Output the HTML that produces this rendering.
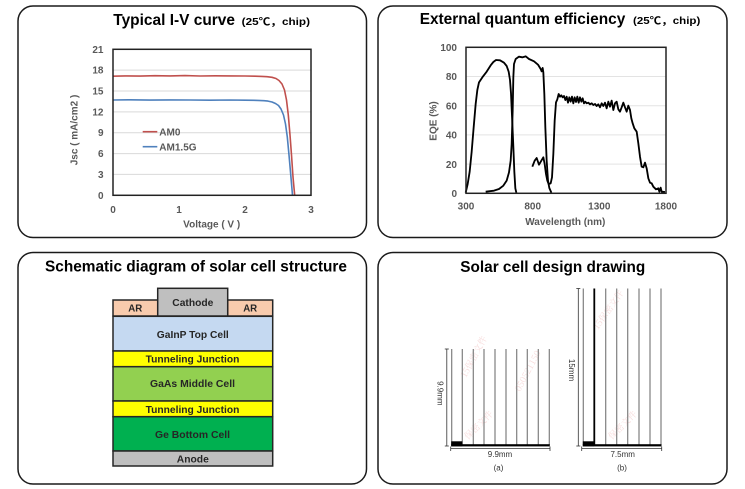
<!DOCTYPE html>
<html>
<head>
<meta charset="utf-8">
<style>
html,body{margin:0;padding:0;background:#fff;}
svg{display:block;}
.t{font-family:"Liberation Sans","Noto Sans CJK SC",sans-serif;font-weight:bold;}
.tk{font-family:"Liberation Sans",sans-serif;font-weight:bold;font-size:10px;fill:#595959;}
.sc{font-family:"Liberation Sans",sans-serif;font-weight:bold;font-size:10.5px;fill:#262626;}
.dm{font-family:"Liberation Sans",sans-serif;font-size:8px;fill:#333;}
.wm{font-family:"Noto Serif CJK SC","Noto Sans CJK SC",serif;font-size:9px;fill:#f3c6c6;opacity:0.6;}
</style>
</head>
<body>
<svg width="745" height="489" viewBox="0 0 745 489" xmlns="http://www.w3.org/2000/svg">
<rect width="745" height="489" fill="#fff"/>
<!-- panels -->
<g fill="none" stroke="#1a1a1a" stroke-width="1.5">
<rect x="18" y="6" width="348.5" height="231.5" rx="15" ry="15"/>
<rect x="378" y="6" width="349" height="231.5" rx="15" ry="15"/>
<rect x="18" y="252.5" width="348.5" height="231.5" rx="15" ry="15"/>
<rect x="378" y="252.5" width="349" height="231.5" rx="15" ry="15"/>
</g>

<!-- titles -->
<text class="t" x="113.3" y="25" font-size="15.5" textLength="121.7" lengthAdjust="spacingAndGlyphs">Typical I-V curve</text>
<text class="t" x="241.7" y="25" font-size="10.5" textLength="68.3" lengthAdjust="spacingAndGlyphs">(25℃，chip)</text>
<text class="t" x="419.7" y="24" font-size="15.5" textLength="205.6" lengthAdjust="spacingAndGlyphs">External quantum efficiency</text>
<text class="t" x="633" y="24" font-size="10.5" textLength="67.3" lengthAdjust="spacingAndGlyphs">(25℃，chip)</text>
<text class="t" x="45" y="271.5" font-size="15.5" textLength="302" lengthAdjust="spacingAndGlyphs">Schematic diagram of solar cell structure</text>
<text class="t" x="460.3" y="272" font-size="15.5" textLength="185" lengthAdjust="spacingAndGlyphs">Solar cell design drawing</text>

<!-- ===== Chart 1: I-V ===== -->
<g stroke="#d9d9d9" stroke-width="1">
<line x1="113" y1="70.1" x2="311" y2="70.1"/>
<line x1="113" y1="91" x2="311" y2="91"/>
<line x1="113" y1="111.9" x2="311" y2="111.9"/>
<line x1="113" y1="132.7" x2="311" y2="132.7"/>
<line x1="113" y1="153.6" x2="311" y2="153.6"/>
<line x1="113" y1="174.4" x2="311" y2="174.4"/>
</g>
<polyline fill="none" stroke="#c0504d" stroke-width="1.6" stroke-linejoin="round" points="113,76.2 125,75.9 140,76.1 155,75.7 170,75.9 185,75.6 200,76.0 215,75.8 230,75.9 245,76.0 255,76.2 262,76.4 267,76.7 272,77.3 276,78.5 279,80.5 282,84 284.5,90 286.5,100 288.3,115 290,135 291.5,155 293,177 294.2,190 294.7,195.3"/>
<polyline fill="none" stroke="#4f81bd" stroke-width="1.6" stroke-linejoin="round" points="113,100 130,99.8 150,100.1 170,99.9 190,100.0 210,100.2 230,100.0 245,100.2 258,100.4 264,100.7 268,101.1 272,102 275.5,103.5 278.5,105.5 281,109 283.5,115 285.5,124 287.3,137 289,155 290.5,172 291.8,187 292.5,195.3"/>
<rect x="113" y="49.3" width="198" height="146" fill="none" stroke="#222" stroke-width="1.5"/>
<!-- legend -->
<line x1="142.7" y1="131.7" x2="157.3" y2="131.7" stroke="#c0504d" stroke-width="1.6"/>
<text class="tk" x="159.3" y="135.5">AM0</text>
<line x1="142.7" y1="146.7" x2="157.3" y2="146.7" stroke="#4f81bd" stroke-width="1.6"/>
<text class="tk" x="159.3" y="150.5">AM1.5G</text>
<!-- y ticks -->
<g class="tk" text-anchor="end">
<text x="103.5" y="52.8">21</text>
<text x="103.5" y="73.6">18</text>
<text x="103.5" y="94.5">15</text>
<text x="103.5" y="115.4">12</text>
<text x="103.5" y="136.2">9</text>
<text x="103.5" y="157.1">6</text>
<text x="103.5" y="177.9">3</text>
<text x="103.5" y="198.8">0</text>
</g>
<g class="tk" text-anchor="middle">
<text x="113" y="213">0</text>
<text x="179" y="213">1</text>
<text x="245" y="213">2</text>
<text x="311" y="213">3</text>
<text x="211.7" y="227.5">Voltage ( V )</text>
</g>
<text class="tk" text-anchor="middle" transform="translate(77.5,130) rotate(-90)">Jsc ( mA/cm2 )</text>

<!-- ===== Chart 2: EQE ===== -->
<g stroke="#e3e3e3" stroke-width="1">
<line x1="466" y1="76.5" x2="666" y2="76.5"/>
<line x1="466" y1="105.7" x2="666" y2="105.7"/>
<line x1="466" y1="134.9" x2="666" y2="134.9"/>
<line x1="466" y1="164.1" x2="666" y2="164.1"/>
</g>
<g transform="translate(420,40) scale(0.333333)" fill="none" stroke="#000" stroke-width="5.5" stroke-linejoin="round">
<polyline points="137,458 143,432 149,395 155,335 161,262 167,192 172,150 177,127 187,112 200,95 212,76 220,66 228,60 240,61 252,68 260,78 266,95 270,120 273,160 277,250 280,320 283,395 286,445 289,458"/>
<polyline points="197,455 222,452 237,447 250,437 260,422 267,397 272,362 275,312 278,212 280,112 282,72 287,57 297,50 307,52 317,49 327,57 342,64 354,74 362,87 365,94 368,84 370,97 373,162 376,262 380,362 384,422 388,444 394,458"/>
<polyline points="337,380 344,362 350,354 357,374 364,362 370,352 374,372 378,402 382,422 386,432 392,430 396,412 400,342 404,242 408,187 412,178 416,162 420,170 424,166 428,172 432,168 436,180 440,170 444,188 448,172 452,185 456,170 460,190 464,172 468,186 472,170 476,188 480,172 484,185 488,175 492,190 496,185 500,190 505,188 510,193 515,190 520,195 525,192 530,198 535,193 540,202 545,190 550,198 555,188 560,205 565,185 570,200 575,182 580,210 585,190 590,185 595,208 600,215 605,202 610,188 615,202 620,215 625,197 630,210 634,235 638,250 643,265 650,275 655,310 660,350 665,380 670,382 675,368 680,385 685,415 690,428 695,430 700,440 708,448 715,445 718,455 722,443 725,455 735,456"/>
</g>
<rect x="466" y="47.3" width="200" height="146" fill="none" stroke="#222" stroke-width="1.5"/>
<g class="tk" text-anchor="end">
<text x="457" y="51">100</text>
<text x="457" y="80.2">80</text>
<text x="457" y="109.4">60</text>
<text x="457" y="138.6">40</text>
<text x="457" y="167.8">20</text>
<text x="457" y="197">0</text>
</g>
<g class="tk" text-anchor="middle">
<text x="466" y="209.5">300</text>
<text x="532.7" y="209.5">800</text>
<text x="599.3" y="209.5">1300</text>
<text x="666" y="209.5">1800</text>
<text x="565.3" y="225">Wavelength (nm)</text>
</g>
<text class="tk" text-anchor="middle" transform="translate(436.5,121) rotate(-90)">EQE (%)</text>

<!-- ===== Schematic ===== -->
<g stroke="#262626" stroke-width="1.5">
<rect x="113" y="300" width="45" height="16" fill="#f8cbad"/>
<rect x="227.7" y="300" width="45" height="16" fill="#f8cbad"/>
<rect x="157.7" y="288.3" width="70" height="27.7" fill="#bfbfbf"/>
<rect x="113" y="316.3" width="159.7" height="34.7" fill="#c5d9f1"/>
<rect x="113" y="351" width="159.7" height="15.7" fill="#ffff00"/>
<rect x="113" y="366.7" width="159.7" height="34.3" fill="#92d050"/>
<rect x="113" y="401" width="159.7" height="15.7" fill="#ffff00"/>
<rect x="113" y="416.7" width="159.7" height="34.3" fill="#00b050"/>
<rect x="113" y="451" width="159.7" height="15" fill="#bfbfbf"/>
</g>
<g class="sc" text-anchor="middle">
<text x="135.3" y="311.5" textLength="14" lengthAdjust="spacingAndGlyphs">AR</text>
<text x="250.2" y="311.5" textLength="14" lengthAdjust="spacingAndGlyphs">AR</text>
<text x="192.8" y="306.2" textLength="41" lengthAdjust="spacingAndGlyphs">Cathode</text>
<text x="192.8" y="337.8" textLength="72" lengthAdjust="spacingAndGlyphs">GaInP Top Cell</text>
<text x="192.5" y="362.5" textLength="93.7" lengthAdjust="spacingAndGlyphs">Tunneling Junction</text>
<text x="192.5" y="387.2" textLength="85" lengthAdjust="spacingAndGlyphs">GaAs Middle Cell</text>
<text x="192.5" y="412.8" textLength="93.7" lengthAdjust="spacingAndGlyphs">Tunneling Junction</text>
<text x="192.5" y="437.8" textLength="75" lengthAdjust="spacingAndGlyphs">Ge Bottom Cell</text>
<text x="192.8" y="462.5" textLength="32" lengthAdjust="spacingAndGlyphs">Anode</text>
</g>

<!-- ===== Design drawing ===== -->
<!-- watermarks -->
<text class="wm" transform="translate(466,378) rotate(-62)">15保密文件</text>
<text class="wm" transform="translate(520,392) rotate(-62)">050521150</text>
<text class="wm" transform="translate(468,440) rotate(-45)">保密文件</text>
<text class="wm" transform="translate(598,330) rotate(-55)">15保密文件</text>
<text class="wm" transform="translate(612,440) rotate(-45)">保密文件</text>
<!-- (a) -->
<g stroke="#7f7f7f" stroke-width="1.2">
<line x1="451.7" y1="349" x2="451.7" y2="445"/>
<line x1="462.3" y1="349" x2="462.3" y2="445"/>
<line x1="473.3" y1="349" x2="473.3" y2="445"/>
<line x1="484" y1="349" x2="484" y2="445"/>
<line x1="495" y1="349" x2="495" y2="445"/>
<line x1="506" y1="349" x2="506" y2="445"/>
<line x1="516.7" y1="349" x2="516.7" y2="445"/>
<line x1="527.3" y1="349" x2="527.3" y2="445"/>
<line x1="538.3" y1="349" x2="538.3" y2="445"/>
<line x1="549.3" y1="349" x2="549.3" y2="445"/>
</g>
<rect x="451.2" y="444.2" width="98.6" height="2.2" fill="#000"/>
<rect x="451.2" y="441.3" width="11.1" height="5" fill="#000"/>
<g stroke="#333" stroke-width="0.8" fill="none">
<line x1="446.8" y1="349" x2="446.8" y2="446"/>
<line x1="444.8" y1="349" x2="448.8" y2="349"/>
<line x1="444.8" y1="446" x2="448.8" y2="446"/>
<line x1="450.7" y1="448.5" x2="550" y2="448.5"/>
<line x1="450.7" y1="446.5" x2="450.7" y2="451"/>
<line x1="550" y1="446.5" x2="550" y2="451"/>
</g>
<g class="dm" text-anchor="middle">
<text x="500" y="457">9.9mm</text>
<text x="498.5" y="470.5">(a)</text>
<text x="622.7" y="457">7.5mm</text>
<text x="622" y="470.5">(b)</text>
</g>
<text class="dm" text-anchor="middle" transform="translate(437.5,393.3) rotate(90)">9.9mm</text>
<text class="dm" text-anchor="middle" transform="translate(569,370) rotate(90)">15mm</text>
<!-- (b) -->
<g stroke="#7f7f7f" stroke-width="1.2">
<line x1="583.3" y1="288.5" x2="583.3" y2="445"/>
<line x1="605.7" y1="288.5" x2="605.7" y2="445"/>
<line x1="616.7" y1="288.5" x2="616.7" y2="445"/>
<line x1="627.7" y1="288.5" x2="627.7" y2="445"/>
<line x1="639" y1="288.5" x2="639" y2="445"/>
<line x1="650" y1="288.5" x2="650" y2="445"/>
<line x1="661" y1="288.5" x2="661" y2="445"/>
</g>
<line x1="594.3" y1="288.5" x2="594.3" y2="445" stroke="#000" stroke-width="1.8"/>
<rect x="582.8" y="444.2" width="78.7" height="2.2" fill="#000"/>
<rect x="582.8" y="441.3" width="11.5" height="5" fill="#000"/>
<g stroke="#333" stroke-width="0.8" fill="none">
<line x1="578.3" y1="288.5" x2="578.3" y2="446"/>
<line x1="576.3" y1="288.5" x2="580.3" y2="288.5"/>
<line x1="576.3" y1="446" x2="580.3" y2="446"/>
<line x1="581.7" y1="448.5" x2="661.7" y2="448.5"/>
<line x1="581.7" y1="446.5" x2="581.7" y2="451"/>
<line x1="661.7" y1="446.5" x2="661.7" y2="451"/>
</g>
</svg>
</body>
</html>
